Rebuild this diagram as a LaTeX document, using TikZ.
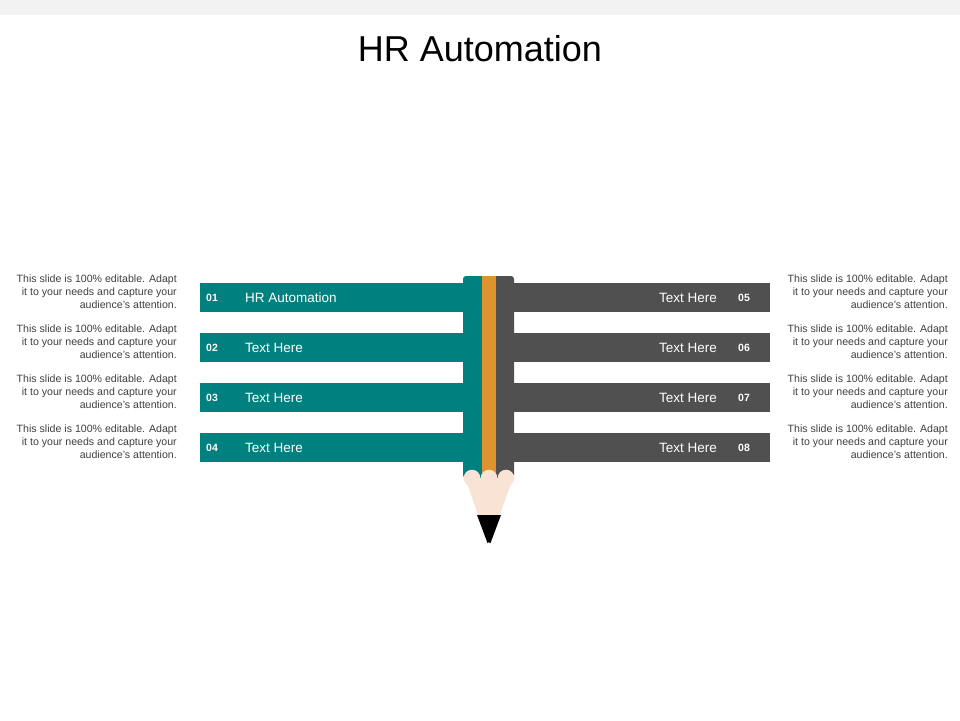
\documentclass[tikz,border=0pt]{standalone}
\usepackage{fontspec}
\setmainfont{Liberation Sans}
\definecolor{teal1}{HTML}{00807F}
\definecolor{gray1}{HTML}{505050}
\definecolor{org}{HTML}{E0922E}
\definecolor{skin}{HTML}{F8E3D4}
\begin{document}
\begin{tikzpicture}[x=1pt,y=-1pt,
  desc/.style={font=\fontsize{10.6}{13}\selectfont,text=black!75,align=right,inner sep=0pt},
  lab/.style={font=\fontsize{13.5}{15}\selectfont,text=white,inner sep=0pt},
  num/.style={font=\bfseries\fontsize{10.5}{12}\selectfont,text=white,inner sep=0pt}]
\useasboundingbox (0,0) rectangle (960,720);
\fill[white] (0,0) rectangle (960,720);
\fill[black!5] (0,0) rectangle (960,15);
\node[font=\fontsize{36}{42}\selectfont] (title) at (480,49) {HR Automation};
% pencil body
\fill[teal1,rounded corners=3pt] (463,276) rectangle (482,478);
\fill[gray1,rounded corners=3pt] (496,276) rectangle (514,478);
\fill[org] (481,276) rectangle (497,478);
\fill[teal1] (470,276) rectangle (482,478);
\fill[gray1] (496,276) rectangle (507,478);
% bars
\foreach \i/\y/\t in {1/283/HR Automation,2/333/Text Here,3/383/Text Here,4/433/Text Here}{
  \fill[teal1] (200,\y) rectangle (463,\y+29);
  \node[num] (n\i) at (212,\y+15) {0\i};
  \node[lab,anchor=west] (l\i) at (245,\y+14.5) {\t};
  \node[desc,anchor=north east] (d\i) at (177,\y-8) {This slide is 100\% editable. Adapt\\ it to your needs and capture your\\ audience's attention.};
}
\foreach \i/\y in {5/283,6/333,7/383,8/433}{
  \fill[gray1] (514,\y) rectangle (770,\y+29);
  \node[num] (n\i) at (744,\y+15) {0\i};
  \node[lab,anchor=east] (l\i) at (717,\y+14.5) {Text Here};
  \node[desc,anchor=north east] (d\i) at (948,\y-8) {This slide is 100\% editable. Adapt\\ it to your needs and capture your\\ audience's attention.};
}
% cone
\fill[skin] (465,478) -- (513,478) -- (489,545) -- cycle;
\foreach \c in {472,489,506}{\fill[skin] (\c,478) circle (8.3);}
\fill[black] (477,515) -- (501,515) -- (490.5,543) arc (-20:-160:1.6) -- cycle;
\end{tikzpicture}
\end{document}
